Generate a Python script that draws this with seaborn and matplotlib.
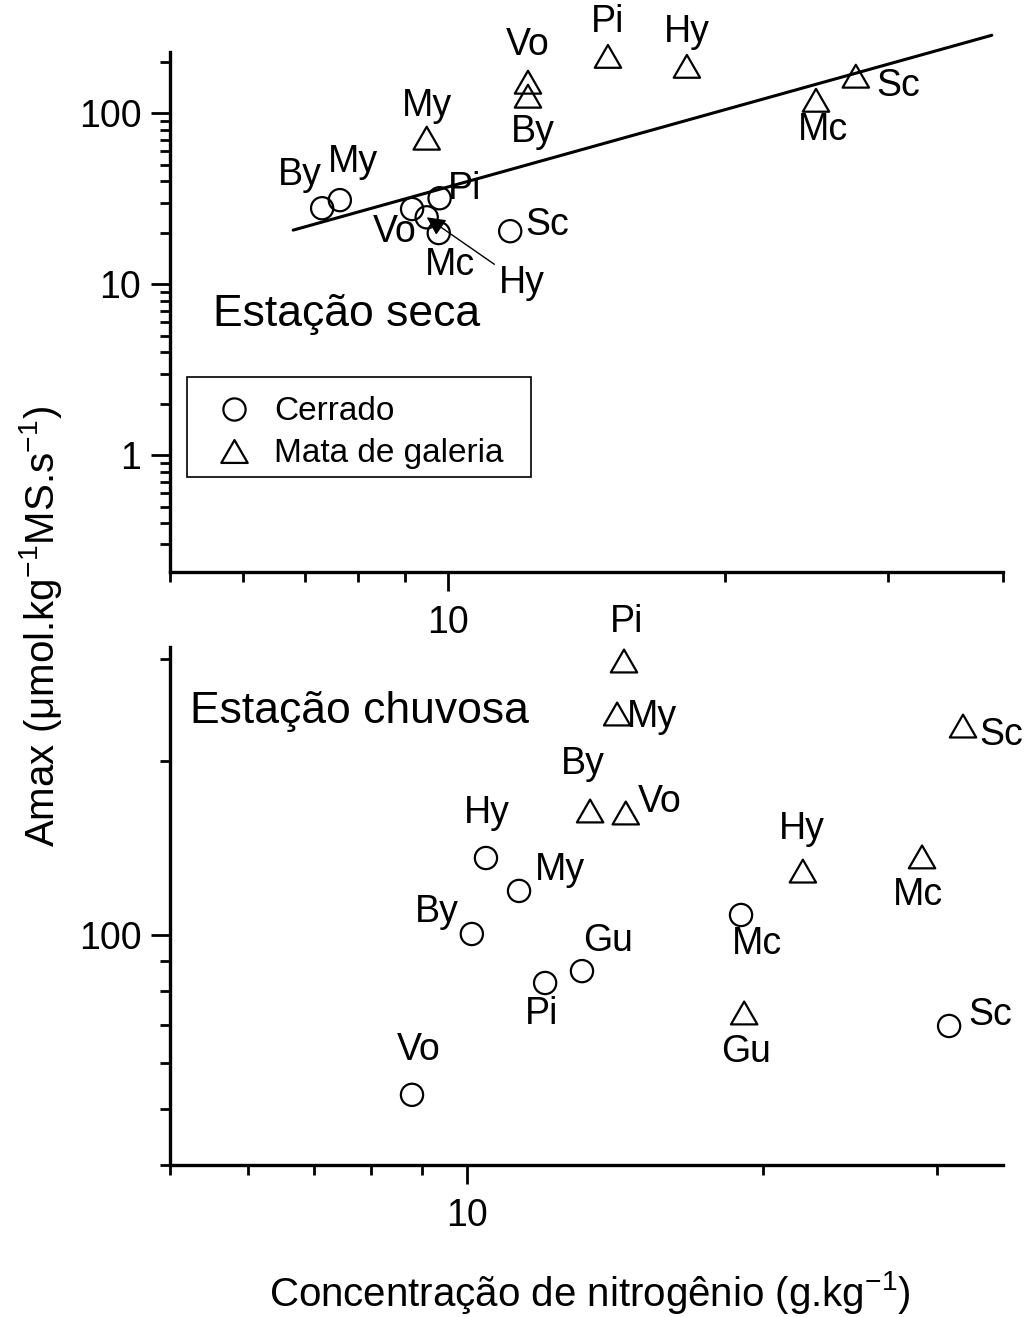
import numpy as np
import pandas as pd
import matplotlib
matplotlib.use("Agg")
import matplotlib.pyplot as plt
import seaborn as sns
from matplotlib.ticker import LogLocator, FixedLocator, FixedFormatter, NullFormatter
from matplotlib.lines import Line2D
from matplotlib.path import Path
from matplotlib.patches import Rectangle

# ---------------- data ----------------
# Estação seca (dry season)
dry_cerrado_species = ["By", "My", "Vo", "Hy", "Pi", "Mc", "Sc"]
dry_cerrado_n = [7.31, 7.64, 9.15, 9.49, 9.80, 9.78, 11.69]
dry_cerrado_amax = [27.8, 31.0, 27.5, 24.6, 31.8, 19.9, 20.4]

dry_mata_species = ["My", "Vo", "By", "Pi", "Hy", "Mc", "Sc"]
dry_mata_n = [9.49, 12.22, 12.22, 14.92, 18.17, 25.08, 27.7]
dry_mata_amax = [71.4, 151.8, 125.7, 215.0, 188.0, 119.0, 164.6]

# log-log regression line (dry season)
fit_log_intercept = 0.063
fit_slope = 1.505
fit_n_range = [6.8, 38.9]

# Estação chuvosa (wet season)
wet_cerrado_species = ["Vo", "By", "Hy", "My", "Pi", "Gu", "Mc", "Sc"]
wet_cerrado_n = [8.80, 10.12, 10.46, 11.30, 12.01, 13.09, 18.98, 30.86]
wet_cerrado_amax = [52.9, 100.4, 135.9, 119.2, 82.6, 86.6, 108.3, 69.6]

wet_mata_species = ["Pi", "My", "By", "Vo", "Hy", "Gu", "Mc", "Sc"]
wet_mata_n = [14.44, 14.21, 13.34, 14.50, 21.93, 19.12, 28.97, 31.88]
wet_mata_amax = [297.9, 241.2, 163.9, 162.6, 129.0, 73.3, 136.5, 229.9]

# ---------------- label placement (pixel offsets) ----------------
dry_cerrado_offsets = [(-22, 33), (13, 38), (-17, -23), (95, -66), (25, 9), (11, -32), (37, 6)]
dry_mata_offsets = [(0, 32), (0, 37), (5, -36), (0, 34), (0, 34), (7, -30), (42, -10)]
wet_cerrado_offsets = [(7, 45), (-35, 22), (1, 45), (41, 21), (-4, -31), (26, 30), (16, -29), (41, 11)]
wet_mata_offsets = [(3, 39), (35, -3), (-7, 47), (34, 11), (-1, 42), (2, -39), (-4, -38), (38, -9)]

# ---------------- style ----------------
sns.set_style("ticks")
plt.rcParams["font.family"] = ["Liberation Sans", "DejaVu Sans"]
plt.rcParams["text.color"] = "black"
plt.rcParams["axes.labelcolor"] = "black"
plt.rcParams["xtick.color"] = "black"
plt.rcParams["ytick.color"] = "black"
plt.rcParams["mathtext.fontset"] = "custom"
plt.rcParams["mathtext.rm"] = "Liberation Sans"
plt.rcParams["mathtext.it"] = "Liberation Sans:italic"
plt.rcParams["mathtext.bf"] = "Liberation Sans:bold"
plt.rcParams["mathtext.sf"] = "Liberation Sans"
plt.rcParams["mathtext.default"] = "regular"

TICK_FS = 27
LABEL_FS = 27
LEGEND_FS = 24
TITLE_FS = 32
AXIS_FS = 29

CIRCLE_MS = 16.0
TRI = Path([(-0.5, -0.433), (0.5, -0.433), (0.0, 0.433), (-0.5, -0.433)],
           [Path.MOVETO, Path.LINETO, Path.LINETO, Path.CLOSEPOLY])
TRI_MS = 19.0
EDGE_W = 1.6

fig = plt.figure(figsize=(10.28, 13.17), dpi=100)
ax_top = fig.add_axes([170 / 1028, 1 - 572 / 1317, 833 / 1028, 520 / 1317])
ax_bot = fig.add_axes([170 / 1028, 1 - 1165 / 1317, 833 / 1028, 518 / 1317])


def style_axis(ax, xlim, ylim, yticks):
    ax.set_xscale("log")
    ax.set_yscale("log")
    ax.set_xlim(xlim)
    ax.set_ylim(ylim)
    ax.xaxis.set_major_locator(FixedLocator([10]))
    ax.xaxis.set_major_formatter(FixedFormatter(["10"]))
    ax.xaxis.set_minor_locator(LogLocator(base=10, subs=np.arange(2, 10) * 1.0, numticks=30))
    ax.xaxis.set_minor_formatter(NullFormatter())
    ax.yaxis.set_major_locator(FixedLocator(yticks))
    ax.yaxis.set_major_formatter(FixedFormatter([f"{t:g}" for t in yticks]))
    ax.yaxis.set_minor_locator(LogLocator(base=10, subs=np.arange(2, 10) * 1.0, numticks=30))
    ax.yaxis.set_minor_formatter(NullFormatter())
    for s in ["top", "right"]:
        ax.spines[s].set_visible(False)
    for s in ["left", "bottom"]:
        ax.spines[s].set_linewidth(2.4)
        ax.spines[s].set_color("black")
    ax.tick_params(which="major", direction="out", length=13.7, width=2.0,
                   labelsize=TICK_FS, colors="black")
    ax.tick_params(which="minor", direction="out", length=7.2, width=2.0, colors="black")
    ax.tick_params(axis="x", which="major", pad=10)
    ax.tick_params(axis="y", which="major", pad=7)
    ax.set_xlabel("")
    ax.set_ylabel("")
    ax.grid(False)


def draw_points(ax, n, amax, marker, ms):
    df = pd.DataFrame({"n": n, "amax": amax})
    sns.scatterplot(data=df, x="n", y="amax", marker=marker, s=ms ** 2,
                    facecolor="none", edgecolor="black", linewidth=EDGE_W,
                    ax=ax, legend=False, zorder=3, clip_on=False)


def draw_labels(ax, species, n, amax, offsets, arrow_for=None):
    for sp, x, y, (dx, dy) in zip(species, n, amax, offsets):
        kw = {}
        if sp == arrow_for:
            kw["arrowprops"] = dict(arrowstyle="-|>", color="black", lw=1.0,
                                    mutation_scale=28, shrinkA=1, shrinkB=0)
        ax.annotate(sp, xy=(x, y), xytext=(dx, dy), textcoords="offset pixels",
                    ha="center", va="center", fontsize=LABEL_FS, color="black",
                    annotation_clip=False, **kw)


# ---------------- top panel: Estação seca ----------------
fit_x = np.array(fit_n_range)
fit_y = 10 ** fit_log_intercept * fit_x ** fit_slope
sns.lineplot(x=fit_x, y=fit_y, color="black", linewidth=2.2, ax=ax_top,
             clip_on=False, zorder=2)

draw_points(ax_top, dry_cerrado_n, dry_cerrado_amax, "o", CIRCLE_MS)
draw_points(ax_top, dry_mata_n, dry_mata_amax, TRI, TRI_MS)
draw_labels(ax_top, dry_cerrado_species, dry_cerrado_n, dry_cerrado_amax,
            dry_cerrado_offsets, arrow_for="Hy")
draw_labels(ax_top, dry_mata_species, dry_mata_n, dry_mata_amax, dry_mata_offsets)

style_axis(ax_top, (5, 40), (0.207, 228), [1, 10, 100])
ax_top.text(0.0516, 0.496, "Estação seca", transform=ax_top.transAxes,
            ha="left", va="center", fontsize=TITLE_FS)

# legend with a separately drawn frame
frame = Rectangle(((187 - 170) / 833, (572 - 477) / 520), (531 - 187) / 833, 100 / 520,
                  transform=ax_top.transAxes, facecolor="white", edgecolor="black",
                  linewidth=1.2, zorder=4)
ax_top.add_patch(frame)
handles = [
    Line2D([], [], linestyle="none", marker="o", markersize=CIRCLE_MS, markerfacecolor="none",
           markeredgecolor="black", markeredgewidth=EDGE_W, label="Cerrado"),
    Line2D([], [], linestyle="none", marker=TRI, markersize=TRI_MS, markerfacecolor="none",
           markeredgecolor="black", markeredgewidth=EDGE_W, label="Mata de galeria"),
]
leg = ax_top.legend(handles=handles, loc="upper left",
                    bbox_to_anchor=((187 - 170) / 833, (572 - 383) / 520),
                    borderaxespad=0, fontsize=LEGEND_FS, frameon=False,
                    borderpad=0.4, handlelength=2.0, handletextpad=0.22,
                    labelspacing=0.33)
leg.set_zorder(5)

# ---------------- bottom panel: Estação chuvosa ----------------
draw_points(ax_bot, wet_cerrado_n, wet_cerrado_amax, "o", CIRCLE_MS)
draw_points(ax_bot, wet_mata_n, wet_mata_amax, TRI, TRI_MS)
draw_labels(ax_bot, wet_cerrado_species, wet_cerrado_n, wet_cerrado_amax, wet_cerrado_offsets)
draw_labels(ax_bot, wet_mata_species, wet_mata_n, wet_mata_amax, wet_mata_offsets)

style_axis(ax_bot, (5, 35), (40, 315), [100])
ax_bot.text(0.024, 0.876, "Estação chuvosa", transform=ax_bot.transAxes,
            ha="left", va="center", fontsize=TITLE_FS)

# ---------------- shared axis labels ----------------
fig.text(41 / 1028, 1 - 627 / 1317, "Amax (μmol.kg$^{-1}$MS.s$^{-1}$)",
         rotation=90, ha="center", va="center", fontsize=AXIS_FS)
fig.text(590 / 1028, 1 - 1293 / 1317, "Concentração de nitrogênio (g.kg$^{-1}$)",
         ha="center", va="center", fontsize=AXIS_FS)

fig.savefig("out.png", dpi=100, facecolor="white")
